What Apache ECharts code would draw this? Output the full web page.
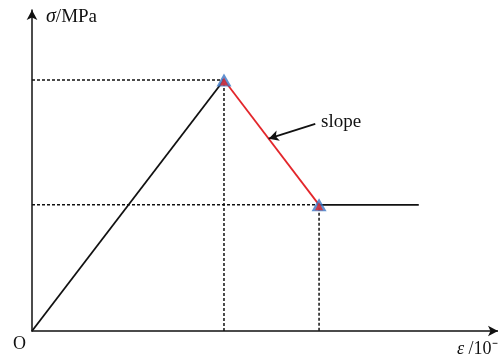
<!DOCTYPE html>
<html>
<head>
<meta charset="utf-8">
<script src="https://cdn.jsdelivr.net/npm/echarts@6/dist/echarts.min.js"></script>
<style>
  html, body { margin: 0; padding: 0; background: #fff; }
  #chart { width: 498px; height: 357px; }
</style>
</head>
<body>
<div id="chart"></div>
<script>
// Key points of the idealised stress–strain curve (strain ε, stress σ in MPa)
const strainPoints = [0, 41.2, 61.6, 83.0];
const stressPoints = [0, 78.2, 39.3, 39.3];
const pointNames = ['origin', 'peak', 'residual', 'end'];
// Where along the softening branch the "slope" arrow points (0 = peak, 1 = residual)
const slopeArrowAt = 0.47;

const pt = i => [strainPoints[i], stressPoints[i]];
const peak = pt(1), residual = pt(2);

const tip = [
  peak[0] + (residual[0] - peak[0]) * slopeArrowAt,
  peak[1] + (residual[1] - peak[1]) * slopeArrowAt
];
const tail = [tip[0] + 10, tip[1] + 4.6];

const serif = '"Liberation Serif", "Times New Roman", serif';
const black = '#111';
const red = '#e3262b';
const blue = '#3a75c4';

const dotted = {
  type: 'line', silent: true, symbol: 'none',
  lineStyle: { color: black, width: 1.5, type: [3, 2] }, z: 1
};

const chart = echarts.init(document.getElementById('chart'));
chart.setOption({
  animation: false,
  backgroundColor: '#fff',
  grid: { left: 32, right: 0, top: 10, bottom: 26, containLabel: false, outerBoundsMode: 'none' },
  xAxis: {
    type: 'value', min: 0, max: 100,
    name: '{i|ε} /10⁻⁶',
    nameLocation: 'end', nameGap: -41,
    nameTextStyle: {
      fontFamily: serif, fontSize: 18, color: black,
      align: 'left', verticalAlign: 'top', padding: [9, 0, 0, 0],
      rich: { i: { fontFamily: serif, fontStyle: 'italic', fontSize: 18, color: black } }
    },
    axisLine: { lineStyle: { color: black, width: 1.5 }, symbol: ['none', 'arrow'], symbolSize: [8, 10] },
    axisTick: { show: false }, axisLabel: { show: false }, splitLine: { show: false }
  },
  yAxis: {
    type: 'value', min: 0, max: 100,
    name: '{i|σ}/MPa',
    nameLocation: 'end', nameGap: -7,
    nameTextStyle: {
      fontFamily: serif, fontSize: 19, color: black,
      align: 'left', verticalAlign: 'middle', padding: [0, 0, 0, 14],
      rich: { i: { fontFamily: serif, fontStyle: 'italic', fontSize: 20, color: black } }
    },
    axisLine: { lineStyle: { color: black, width: 1.5 }, symbol: ['none', 'arrow'], symbolSize: [8, 10] },
    axisTick: { show: false }, axisLabel: { show: false }, splitLine: { show: false }
  },
  graphic: [{
    type: 'text', left: 13, top: 335,
    style: { text: 'O', font: '18px ' + serif, fill: black }
  }],
  series: [
    Object.assign({ name: 'peak guide', data: [[0, peak[1]], peak, [peak[0], 0]] }, dotted),
    Object.assign({ name: 'residual guide', data: [[0, residual[1]], residual, [residual[0], 0]] }, dotted),
    {
      name: 'elastic', type: 'line', symbol: 'none', z: 2,
      lineStyle: { color: black, width: 1.8 },
      data: [pt(0), pt(1)]
    },
    {
      name: 'softening', type: 'line', symbol: 'none', z: 2,
      lineStyle: { color: red, width: 1.8 },
      data: [pt(1), pt(2)],
      markLine: {
        silent: true, symbol: ['none', 'arrow'], symbolSize: [8, 10],
        lineStyle: { color: black, width: 1.8, type: 'solid' },
        label: {
          show: true, position: 'start', formatter: 'slope', distance: 6,
          fontFamily: serif, fontSize: 19, color: black
        },
        data: [[{ coord: tail }, { coord: tip }]]
      }
    },
    {
      name: 'residual', type: 'line', symbol: 'none', z: 2,
      lineStyle: { color: black, width: 1.8 },
      data: [pt(2), pt(3)]
    },
    {
      name: 'key points', type: 'scatter', z: 5,
      symbol: 'triangle', symbolSize: [15, 13],
      itemStyle: { color: blue },
      data: [pt(1), pt(2)]
    },
    {
      name: 'key points inner', type: 'scatter', z: 6,
      symbol: 'triangle', symbolSize: [8, 8], symbolOffset: [0, 1.5],
      itemStyle: { color: red },
      data: [pt(1), pt(2)]
    }
  ]
});
</script>
</body>
</html>
